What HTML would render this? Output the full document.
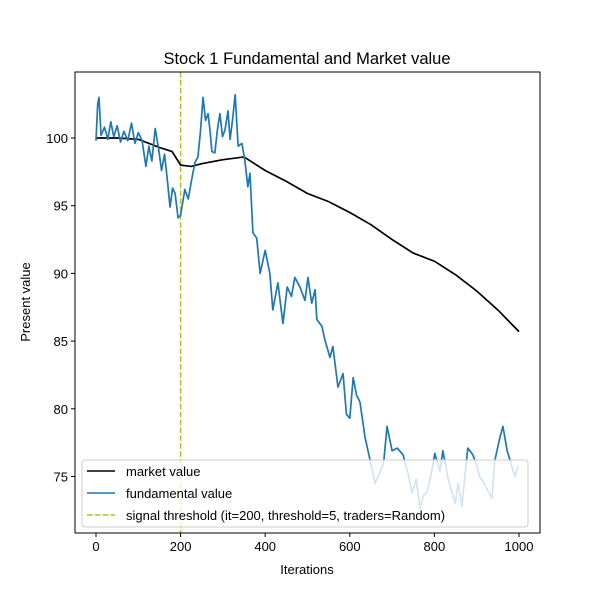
<!DOCTYPE html>
<html><head><meta charset="utf-8"><style>
html,body{margin:0;padding:0;background:#fff;}
svg{display:block;font-family:"Liberation Sans","DejaVu Sans",sans-serif;}
</style></head><body>
<svg id="chart" width="600" height="600" viewBox="0 0 600 600">
<rect width="600" height="600" fill="#fff"/>
<text x="307" y="64" font-size="16.5" text-anchor="middle">Stock 1 Fundamental and Market value</text>
<g id="plot"></g>
<g id="axes"></g>
<g id="legend"></g>
</svg>
<script>
const marketIters=[0,50,100,150,180,200,225,250,300,350,400,450,500,550,600,650,700,750,800,850,900,950,1000];
const marketVals=[100,100,99.9,99.3,99.0,98.0,97.9,98.1,98.4,98.6,97.6,96.8,95.9,95.3,94.5,93.6,92.5,91.5,90.9,89.9,88.7,87.3,85.7];
const fundIters=[0,4,7,12,20,28,35,42,50,58,66,75,84,92,100,109,118,125,132,140,148,155,162,168,175,181,187,194,200,210,218,226,234,241,247,253,259,265,270,274,281,287,293,299,305,312,317,323,329,336,345,352,359,364,371,380,388,400,411,418,430,442,452,462,470,482,494,501,510,518,522,534,541,553,560,572,584,592,600,608,616,624,636,648,660,671,680,688,700,712,726,738,747,757,766,774,782,792,801,813,820,832,840,849,856,865,872,879,891,900,908,916,924,936,943,955,962,972,979,986,991,998];
const fundVals=[99.8,102.5,103.0,100.2,100.8,99.9,101.2,100.1,100.9,99.7,100.5,99.8,101.1,99.6,100.4,99.8,97.9,99.4,98.3,100.7,99.2,97.6,98.8,97.1,94.9,96.3,95.9,94.1,94.3,96.2,95.5,96.9,98.2,98.6,100.5,103.0,101.3,101.8,100.4,99.0,98.9,100.6,101.8,100.1,100.6,102.0,99.9,101.4,103.2,99.4,99.6,98.3,96.4,97.4,93.0,92.6,90.0,91.7,90.0,87.3,89.3,86.3,89.0,88.3,89.7,89.0,88.0,89.7,87.8,88.8,86.6,86.1,85.1,83.8,84.6,81.6,82.6,79.6,79.3,82.3,81.0,80.5,77.9,76.2,74.5,75.3,76.0,78.7,76.9,77.1,76.6,75.2,73.8,74.8,72.7,73.6,73.8,75.1,76.7,75.4,76.9,74.9,74.0,73.0,74.5,72.8,75.0,77.1,76.6,75.8,74.9,74.6,74.1,73.4,76.2,77.9,78.7,76.9,76.2,75.4,75.0,75.8];
const xTicks=[0,200,400,600,800,1000];
const yTicks=[75,80,85,90,95,100];
const thresholdIter=200;
const NS='http://www.w3.org/2000/svg';
const L=75,R=540,T=72,B=533;
const xs=i=>96+(i/1000)*423;
const ys=v=>138+(100-v)*13.54;
function mk(tag,attrs,parent){const e=document.createElementNS(NS,tag);for(const k in attrs)e.setAttribute(k,attrs[k]);parent.appendChild(e);return e;}
const plot=document.getElementById('plot'),axes=document.getElementById('axes'),leg=document.getElementById('legend');
const clip=mk('clipPath',{id:'cp'},plot);mk('rect',{x:L,y:T,width:R-L,height:B-T},clip);
const g=mk('g',{'clip-path':'url(#cp)'},plot);
const vl=mk('line',{x1:xs(thresholdIter),x2:xs(thresholdIter),y1:T,y2:B,stroke:'#bcbd22','stroke-width':1.5,'stroke-dasharray':'5.5,2.4'},g);


const mp=mk('polyline',{points:marketIters.map((t,i)=>xs(t)+','+ys(marketVals[i])).join(' '),fill:'none',stroke:'#000','stroke-width':1.7},g);


const fp=mk('polyline',{points:fundIters.map((t,i)=>xs(t)+','+ys(fundVals[i])).join(' '),fill:'none',stroke:'#1f77b4','stroke-width':1.7,'stroke-linejoin':'round'},g);


mk('rect',{x:L,y:T,width:R-L,height:B-T,fill:'none',stroke:'#000','stroke-width':1},axes);
xTicks.forEach(t=>{const x=xs(t);mk('line',{x1:x,x2:x,y1:B,y2:B+4,stroke:'#000'},axes);
 const tx=mk('text',{x:x,y:B+18,'font-size':13,'text-anchor':'middle'},axes);tx.textContent=t;
 
 });
yTicks.forEach(t=>{const y=ys(t);mk('line',{x1:L-4,x2:L,y1:y,y2:y,stroke:'#000'},axes);
 const tx=mk('text',{x:L-7,y:y+5,'font-size':13,'text-anchor':'end'},axes);tx.textContent=t;
 
 });
const xt=mk('text',{x:307,y:574,'font-size':13,'text-anchor':'middle'},axes);xt.textContent='Iterations';


const yt=mk('text',{x:30,y:302,'font-size':13,'text-anchor':'middle',transform:'rotate(-90 30 302)'},axes);yt.textContent='Present value';


mk('rect',{x:82,y:460,width:446,height:67,rx:3,fill:'#fff','fill-opacity':0.8,stroke:'#ccc'},leg);
const entries=[['market value','#000',null],['fundamental value','#1f77b4',null],['signal threshold (it=200, threshold=5, traders=Random)','#bcbd22','5.5,2.4']];
entries.forEach((e,i)=>{const y=471+i*22;
 const gg=mk('g',{},leg);
 
 
 const a={x1:87,x2:115,y1:y,y2:y,stroke:e[1],'stroke-width':1.6};if(e[2])a['stroke-dasharray']=e[2];mk('line',a,gg);
 const t=mk('text',{x:126,y:y+5,'font-size':13},gg);t.textContent=e[0];});
</script>
</body></html>
